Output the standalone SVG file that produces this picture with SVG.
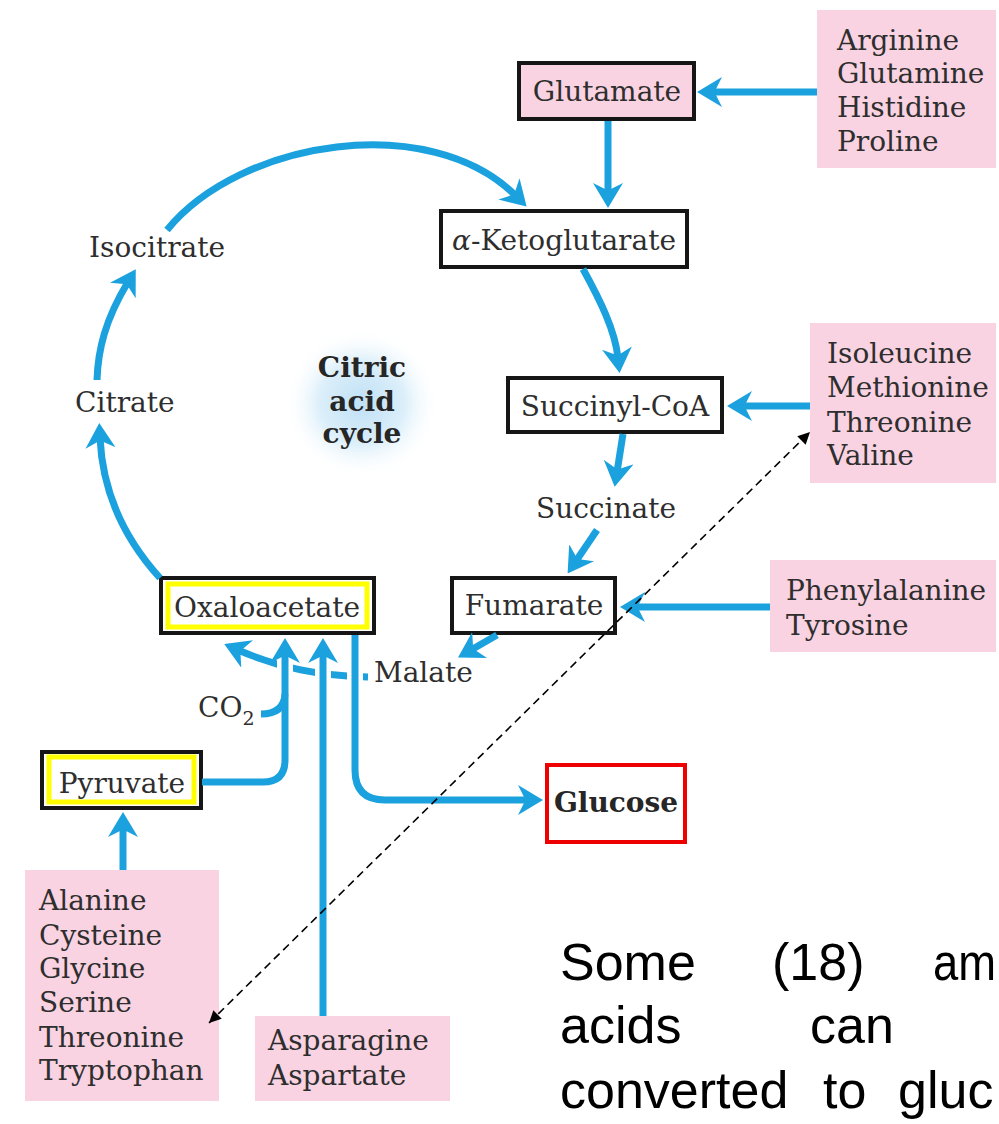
<svg xmlns="http://www.w3.org/2000/svg" width="999" height="1124" viewBox="0 0 999 1124">
<style>
.lbl{font-family:"DejaVu Serif","Liberation Serif",serif;font-size:28px;fill:#2e2e2e}
.bold{font-weight:bold;fill:#262626}
.pink{fill:#f9d3e2;stroke:none}
.box{stroke:#161616;stroke-width:4}
.flow{fill:none;stroke:#1ba1de;stroke-width:7}
.arr{marker-end:url(#ah)}
.case{fill:none;stroke:#fff;stroke-width:16}
.para{font-family:"Liberation Sans",Arial,sans-serif;font-size:52px;fill:#000}
</style>
<defs>
<marker id="ah" viewBox="0 0 10 12" markerUnits="userSpaceOnUse" markerWidth="25" markerHeight="30" refX="4" refY="6" orient="auto">
<path d="M0,0 L10,6 L0,12 L3,6 z" fill="#1ba1de"/>
</marker>
<marker id="bh" viewBox="0 0 10 10" markerUnits="userSpaceOnUse" markerWidth="14" markerHeight="12" refX="10" refY="5" orient="auto-start-reverse">
<path d="M0,0 L10,5 L0,10 z" fill="#000"/>
</marker>
<radialGradient id="glow" cx="0.5" cy="0.5" r="0.5">
<stop offset="0" stop-color="#bfe0f5"/>
<stop offset="0.55" stop-color="#dcefFa"/>
<stop offset="1" stop-color="#ffffff" stop-opacity="0"/>
</radialGradient>
</defs>
<rect width="999" height="1124" fill="#fff"/>

<g id="cycle-label">
<ellipse cx="362" cy="403" rx="78" ry="75" fill="url(#glow)"/>
<text class="lbl bold" x="362" y="377" text-anchor="middle">Citric</text>
<text class="lbl bold" x="362" y="411" text-anchor="middle">acid</text>
<text class="lbl bold" x="362" y="443" text-anchor="middle">cycle</text>
</g>

<g id="glutamate">
<rect class="box" x="519" y="63" width="175" height="56" fill="#f9d3e2"/>
<text class="lbl" x="607" y="101" text-anchor="middle">Glutamate</text>
</g>
<g id="aketoglutarate">
<rect class="box" x="441" y="211" width="246" height="56" fill="#fff"/>
<text class="lbl" x="564" y="250" text-anchor="middle"><tspan font-style="italic">α</tspan>-Ketoglutarate</text>
</g>
<g id="succinylcoa">
<rect class="box" x="508" y="378" width="214" height="54" fill="#fff"/>
<text class="lbl" x="615" y="416" text-anchor="middle">Succinyl-CoA</text>
</g>
<g id="succinate">
<text class="lbl" x="606" y="518" text-anchor="middle">Succinate</text>
</g>
<g id="fumarate">
<rect class="box" x="452" y="578" width="163" height="55" fill="#fff"/>
<text class="lbl" x="534" y="615" text-anchor="middle">Fumarate</text>
</g>
<g id="malate">
<text class="lbl" x="374" y="682">Malate</text>
</g>
<g id="oxaloacetate">
<rect class="box" x="161" y="578" width="213" height="55" fill="#fff"/>
<rect x="168" y="584" width="199" height="43" fill="#fff" stroke="#ffff00" stroke-width="5"/>
<text class="lbl" x="267" y="617" text-anchor="middle">Oxaloacetate</text>
</g>
<g id="citrate">
<text class="lbl" x="75" y="412">Citrate</text>
</g>
<g id="isocitrate">
<text class="lbl" x="89" y="257">Isocitrate</text>
</g>
<g id="co2">
<text class="lbl" x="198" y="717">CO<tspan font-size="19" dy="8">2</tspan></text>
</g>
<g id="pyruvate">
<rect class="box" x="42" y="752" width="159" height="56" fill="#fff"/>
<rect x="49" y="757" width="145" height="45" fill="#fff" stroke="#ffff00" stroke-width="5"/>
<text class="lbl" x="122" y="793" text-anchor="middle">Pyruvate</text>
</g>
<g id="glucose">
<rect x="547" y="765" width="138" height="77" fill="#fff" stroke="#ee0000" stroke-width="4"/>
<text class="lbl bold" x="616" y="812" text-anchor="middle">Glucose</text>
</g>

<g id="aa-glutamate">
<rect class="pink" x="817" y="10" width="179" height="158"/>
<text class="lbl" x="837" y="50">Arginine</text>
<text class="lbl" x="837" y="83">Glutamine</text>
<text class="lbl" x="837" y="117">Histidine</text>
<text class="lbl" x="837" y="151">Proline</text>
</g>
<g id="aa-succinylcoa">
<rect class="pink" x="810" y="323" width="186" height="160"/>
<text class="lbl" x="827" y="363">Isoleucine</text>
<text class="lbl" x="827" y="397">Methionine</text>
<text class="lbl" x="827" y="432">Threonine</text>
<text class="lbl" x="827" y="465">Valine</text>
</g>
<g id="aa-fumarate">
<rect class="pink" x="770" y="560" width="226" height="92"/>
<text class="lbl" x="786" y="600">Phenylalanine</text>
<text class="lbl" x="786" y="635">Tyrosine</text>
</g>
<g id="aa-pyruvate">
<rect class="pink" x="25" y="870" width="194" height="231"/>
<text class="lbl" x="39" y="910">Alanine</text>
<text class="lbl" x="39" y="945">Cysteine</text>
<text class="lbl" x="39" y="978">Glycine</text>
<text class="lbl" x="39" y="1012">Serine</text>
<text class="lbl" x="39" y="1047">Threonine</text>
<text class="lbl" x="39" y="1080">Tryptophan</text>
</g>
<g id="aa-oxaloacetate">
<rect class="pink" x="255" y="1016" width="195" height="85"/>
<text class="lbl" x="268" y="1050">Asparagine</text>
<text class="lbl" x="268" y="1085">Aspartate</text>
</g>

<g id="note">
<text class="para" x="560" y="980">Some</text>
<text class="para" x="772" y="980">(18)</text>
<text class="para" x="933" y="980" textLength="63" lengthAdjust="spacingAndGlyphs">am</text>
<text class="para" x="560" y="1043">acids</text>
<text class="para" x="810" y="1043">can</text>
<text class="para" x="560" y="1108">converted</text>
<text class="para" x="823" y="1108">to</text>
<text class="para" x="898" y="1108">gluc</text>
</g>

<g id="connectors">
<path class="flow arr" d="M817,92 L712,92"/>
<path class="flow arr" d="M608,121 L608,193"/>
<path class="flow arr" d="M167,230 C240,140 430,110 516,196"/>
<path class="flow arr" d="M583,269 C600,300 615,330 618,358"/>
<path class="flow arr" d="M810,406 L742,406"/>
<path class="flow arr" d="M623,434 L617,472"/>
<path class="flow arr" d="M597,530 L576,561"/>
<path class="flow arr" d="M770,607 L635,607"/>
<path class="flow arr" d="M497,635 L471,650"/>
<path class="flow arr" d="M368,677 C320,676 280,668 238,650"/>
<path class="case" d="M285,655 L285,690"/>
<path class="case" d="M323,655 L323,692"/>
<path class="case" d="M355,655 L355,695"/>
<path class="flow arr" d="M202,782 L263,782 Q285,782 285,760 L285,653"/>
<path class="flow" d="M261,714 Q284,714 285,694"/>
<path class="flow arr" d="M323,1016 L323,653"/>
<path class="flow arr" d="M355,635 L355,770 Q355,800 385,800 L528,800"/>
<path class="flow arr" d="M123,870 L123,827"/>
<path class="flow arr" d="M160,578 C130,545 103,500 100,438"/>
<path class="flow arr" d="M97,380 C98,350 105,320 128,282"/>
<path d="M209,1023 L810,432" fill="none" stroke="#000" stroke-width="1.6" stroke-dasharray="8,5" marker-start="url(#bh)" marker-end="url(#bh)"/>
</g>
</svg>
